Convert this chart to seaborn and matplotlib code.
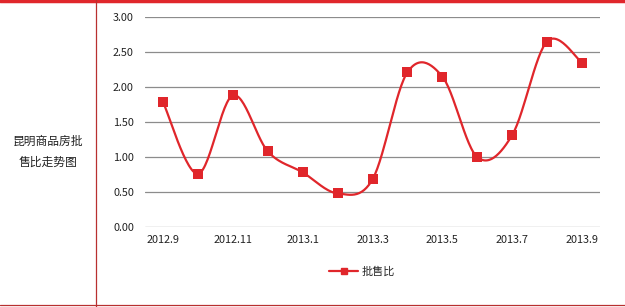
import numpy as np
import pandas as pd
import matplotlib
matplotlib.use("Agg")
import matplotlib.pyplot as plt
import seaborn as sns
from matplotlib.lines import Line2D

categories = ["2012.9", "2012.10", "2012.11", "2012.12", "2013.1", "2013.2", "2013.3",
              "2013.4", "2013.5", "2013.6", "2013.7", "2013.8", "2013.9"]
values = [1.78, 0.76, 1.88, 1.08, 0.78, 0.48, 0.68, 2.21, 2.15, 1.00, 1.31, 2.65, 2.35]
series_name = "批售比"
title_text = "昆明商品房批\n售比走势图"
yticks = [0.0, 0.5, 1.0, 1.5, 2.0, 2.5, 3.0]

sns.set_theme(style="white")
plt.rcParams['font.family'] = ['Noto Sans CJK SC', 'DejaVu Sans']

RED = "#E0262B"
W, H = 625, 307
fig = plt.figure(figsize=(W / 100, H / 100), dpi=100)
ax = fig.add_axes([145 / W, 1 - 227 / H, (600 - 145) / W, (227 - 17) / H])

df = pd.DataFrame({"x": np.arange(len(categories)), "v": values, "s": series_name})

# smooth curve (Excel-like Bezier through the data points)
x = df["x"].to_numpy(float)
y = df["v"].to_numpy(float)
px = np.concatenate([[x[0]], x, [x[-1]]])
py = np.concatenate([[y[0]], y, [y[-1]]])
cx, cy = [], []
t = np.linspace(0, 1, 30)
for i in range(len(x) - 1):
    p0 = np.array([px[i], py[i]]); p1 = np.array([px[i + 1], py[i + 1]])
    p2 = np.array([px[i + 2], py[i + 2]]); p3 = np.array([px[i + 3], py[i + 3]])
    c1 = p1 + (p2 - p0) / 6
    c2 = p2 - (p3 - p1) / 6
    b = ((1 - t) ** 3)[:, None] * p1 + (3 * (1 - t) ** 2 * t)[:, None] * c1 + \
        (3 * (1 - t) * t ** 2)[:, None] * c2 + (t ** 3)[:, None] * p2
    cx.extend(b[:, 0]); cy.extend(b[:, 1])
ax.plot(cx, cy, color=RED, lw=1.6, zorder=3)
sns.scatterplot(data=df, x="x", y="v", marker="s", s=55, color=RED,
                edgecolor=RED, linewidth=0, ax=ax, zorder=4, legend=False)

ax.set_xlim(-0.52, len(categories) - 1 + 0.52)
ax.set_ylim(0, 3)
ax.set_yticks(yticks)
ax.set_yticklabels([f"{v:.2f}" for v in yticks], fontsize=7.8, color="#222222")
ax.set_xticks(range(0, len(categories), 2))
ax.set_xticklabels(categories[::2], fontsize=7.8, color="#222222")
ax.tick_params(axis="both", length=0, pad=8)
ax.tick_params(axis="x", pad=6)
ax.grid(axis="y", color="#8c8c8c", lw=0.9)
ax.grid(axis="x", visible=False)
for s in ax.spines.values():
    s.set_visible(False)
ax.set_xlabel(""); ax.set_ylabel("")

handle = Line2D([0], [0], color=RED, lw=1.6, marker="s", markersize=5)
fig.legend([handle], [series_name], loc="center", bbox_to_anchor=(362 / W, 1 - 272 / H),
           frameon=False, fontsize=8, handlelength=2.6, handletextpad=0.3)

fig.text(48 / W, 1 - 152 / H, title_text, ha="center", va="center", fontsize=8.5,
         linespacing=1.75, color="#222222")

# frame lines
fig.add_artist(Line2D([0, 1], [1 - 1 / H, 1 - 1 / H], color=RED, lw=2.5, transform=fig.transFigure))
fig.add_artist(Line2D([96 / W, 96 / W], [0, 1], color="#B83030", lw=0.9, transform=fig.transFigure))
fig.add_artist(Line2D([0, 1], [1 - 305 / H, 1 - 305 / H], color="#B83030", lw=0.9, transform=fig.transFigure))

fig.savefig("out.png", dpi=100, facecolor="white")
